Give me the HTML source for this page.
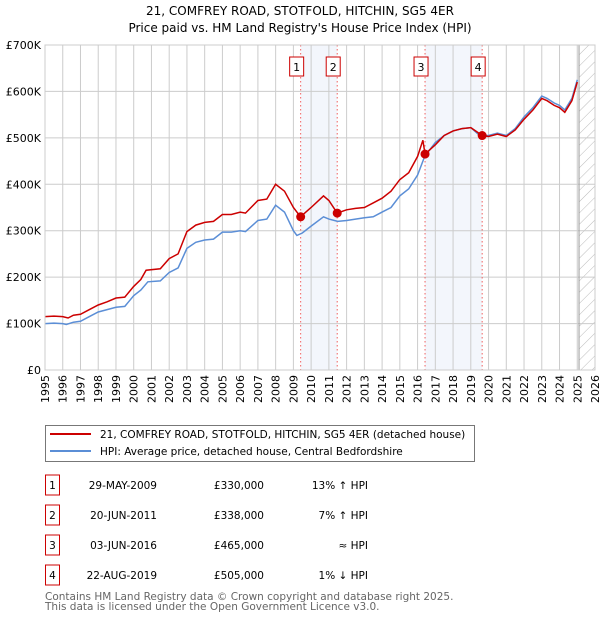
<!DOCTYPE html>
<html><head><meta charset="utf-8"><style>
body{margin:0;background:#fff;font-family:"Liberation Sans","DejaVu Sans",sans-serif;}
svg text{font-family:"DejaVu Sans","Liberation Sans",sans-serif;}
</style></head><body>
<svg id="c" width="600" height="620" xmlns="http://www.w3.org/2000/svg"></svg>
<script>
const hpiYears=[1995,1995.5,1996,1996.2,1996.6,1997,1997.5,1998,1998.5,1999,1999.5,2000,2000.4,2000.8,2001.5,2002,2002.5,2003,2003.5,2004,2004.5,2005,2005.5,2006,2006.3,2007,2007.5,2008,2008.5,2009,2009.2,2009.5,2010,2010.7,2011,2011.5,2012,2012.5,2013,2013.5,2014,2014.5,2015,2015.5,2016,2016.4,2017,2017.5,2018,2018.5,2019,2019.5,2020,2020.5,2021,2021.5,2022,2022.5,2023,2023.3,2023.7,2024,2024.3,2024.7,2025];
const hpiValues=[100,101,100,98,103,105,115,125,130,135,137,160,172,190,192,210,220,262,275,280,282,297,297,300,298,322,325,355,340,300,290,295,310,330,325,320,322,325,328,330,340,350,375,390,420,460,490,505,515,520,522,505,505,510,505,520,545,565,590,585,575,570,560,585,625];
const ppYears=[1995,1995.5,1996,1996.3,1996.6,1997,1997.5,1998,1998.5,1999,1999.5,2000,2000.4,2000.7,2001.5,2002,2002.5,2003,2003.5,2004,2004.5,2005,2005.5,2006,2006.3,2007,2007.5,2008,2008.5,2009,2009.4,2010,2010.7,2011,2011.47,2012,2012.5,2013,2013.5,2014,2014.5,2015,2015.5,2016,2016.3,2016.42,2017,2017.5,2018,2018.5,2019,2019.64,2020,2020.5,2021,2021.5,2022,2022.5,2023,2023.3,2023.7,2024,2024.3,2024.7,2025];
const ppValues=[115,116,115,112,118,120,130,140,147,155,157,180,195,215,218,240,250,298,312,318,320,335,335,340,338,365,368,400,385,350,330,350,375,365,338,345,348,350,360,370,385,410,425,460,495,465,485,505,515,520,522,505,503,508,503,517,540,560,585,580,570,565,555,580,620];
const saleLabels=["1","2","3","4"];
const saleYears=[2009.41,2011.47,2016.42,2019.64];
const salePrices=[330,338,465,505];
const yTicks=[0,100,200,300,400,500,600,700];
const yTickLabels=["£0","£100K","£200K","£300K","£400K","£500K","£600K","£700K"];
const xTicks=[];for(let y=1995;y<=2026;y++)xTicks.push(y);

const NS="http://www.w3.org/2000/svg",svg=document.getElementById('c');
const L=45,R=595,T=45,B=370;
const X=y=>L+(y-1995)/(2026-1995)*(R-L);
const Y=v=>B-v/700*(B-T);
function el(t,a,p){const e=document.createElementNS(NS,t);for(const k in a)e.setAttribute(k,a[k]);(p||svg).appendChild(e);return e;}
function tx(s,a){const e=el('text',a);e.textContent=s;return e;}
let e;
e=tx("21, COMFREY ROAD, STOTFOLD, HITCHIN, SG5 4ER",{x:300,y:15,'text-anchor':'middle','font-size':12});

e=tx("Price paid vs. HM Land Registry's House Price Index (HPI)",{x:300,y:32,'text-anchor':'middle','font-size':12});

e=el('rect',{x:X(saleYears[0]),y:T,width:X(saleYears[1])-X(saleYears[0]),height:B-T,fill:'#eef2fb',opacity:0.7});

e=el('rect',{x:X(saleYears[2]),y:T,width:X(saleYears[3])-X(saleYears[2]),height:B-T,fill:'#eef2fb',opacity:0.7});

const defs=el('defs',{});
const pat=el('pattern',{id:'h',width:8,height:8,patternUnits:'userSpaceOnUse',patternTransform:'rotate(45)'},defs);
el('line',{x1:0,y1:0,x2:0,y2:8,stroke:'#bbb','stroke-width':1},pat);
e=el('rect',{x:X(2025.1),y:T,width:R-X(2025.1),height:B-T,fill:'url(#h)'});

yTicks.forEach((v,i)=>{e=el('line',{x1:L,x2:R,y1:Y(v),y2:Y(v),stroke:'#ccc','stroke-width':1});

e=tx(yTickLabels[i],{x:L-4,y:Y(v)+4,'text-anchor':'end','font-size':11});
});
xTicks.forEach(y=>{e=el('line',{x1:X(y),x2:X(y),y1:T,y2:B,stroke:'#ccc','stroke-width':1});

e=tx(String(y),{x:0,y:0,'text-anchor':'end','font-size':11,transform:`translate(${X(y)+4},${B+5}) rotate(-90)`});
});
e=el('line',{x1:X(2025.1),x2:X(2025.1),y1:T,y2:B,stroke:'#999','stroke-width':1});

saleYears.forEach((y,i)=>{e=el('line',{x1:X(y),x2:X(y),y1:T,y2:B,stroke:'#f06060','stroke-dasharray':'1.5,2.5','stroke-width':1});

const g=el('g',{});
el('rect',{x:X(y)-11,y:57,width:14,height:19,fill:'#fff',stroke:'#c00'},g);
const t=el('text',{x:X(y)-4,y:71,'text-anchor':'middle','font-size':11},g);t.textContent=saleLabels[i];});
function path(xs,vs){return xs.map((x,i)=>(i?'L':'M')+X(x).toFixed(1)+','+Y(vs[i]).toFixed(1)).join('');}
e=el('path',{d:path(hpiYears,hpiValues),fill:'none',stroke:'#5b8ed6','stroke-width':1.5});

e=el('path',{d:path(ppYears,ppValues),fill:'none',stroke:'#cc0000','stroke-width':1.5});

saleYears.forEach((y,i)=>{e=el('circle',{cx:X(y),cy:Y(salePrices[i]),r:4.5,fill:'#cc0000'});
});
el('rect',{x:L,y:T,width:R-L,height:B-T,fill:'none',stroke:'#ccc'});
const lg=el('g',{});
el('rect',{x:45.5,y:425.5,width:429,height:36,fill:'#fff',stroke:'#777'},lg);
el('line',{x1:50,x2:91,y1:434,y2:434,stroke:'#cc0000','stroke-width':2},lg);
el('line',{x1:50,x2:91,y1:451,y2:451,stroke:'#5b8ed6','stroke-width':2},lg);
let t=el('text',{x:100,y:438,'font-size':10.5},lg);t.textContent="21, COMFREY ROAD, STOTFOLD, HITCHIN, SG5 4ER (detached house)";
t=el('text',{x:100,y:455,'font-size':10.5},lg);t.textContent="HPI: Average price, detached house, Central Bedfordshire";
const dates=["29-MAY-2009","20-JUN-2011","03-JUN-2016","22-AUG-2019"];
const prices=["£330,000","£338,000","£465,000","£505,000"];
const rel=["13% ↑ HPI","7% ↑ HPI","≈ HPI","1% ↓ HPI"];
dates.forEach((d,i)=>{const y=483+i*30;const g=el('g',{});

el('rect',{x:45.5,y:y-8,width:14,height:20,fill:'#fff',stroke:'#c00'},g);
let a=el('text',{x:52.5,y:y+6,'text-anchor':'middle','font-size':10.5},g);a.textContent=saleLabels[i];
a=el('text',{x:157,y:y+6,'text-anchor':'end','font-size':10.5},g);a.textContent=d;
a=el('text',{x:264,y:y+6,'text-anchor':'end','font-size':10.5},g);a.textContent=prices[i];
a=el('text',{x:368,y:y+6,'text-anchor':'end','font-size':10.5},g);a.textContent=rel[i];});
e=tx("Contains HM Land Registry data © Crown copyright and database right 2025.",{x:45,y:600,'font-size':10.5,fill:'#666'});

e=tx("This data is licensed under the Open Government Licence v3.0.",{x:45,y:610,'font-size':10.5,fill:'#666'});

</script>
</body></html>
